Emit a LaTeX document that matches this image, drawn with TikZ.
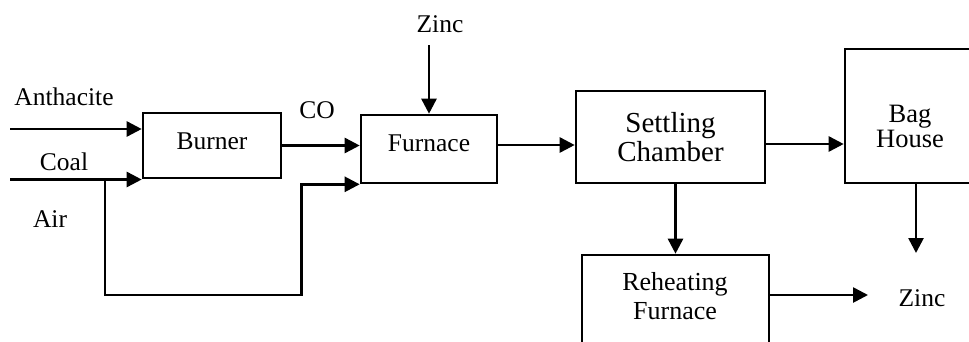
\documentclass[tikz,border=0pt]{standalone}
\usepackage{fontspec}
\setmainfont{Liberation Serif}
\usetikzlibrary{arrows.meta}
\begin{document}
\begin{tikzpicture}[x=1pt,y=-1pt,
  box/.style={draw, line width=2.6pt, inner sep=0pt, align=center,
    font=\fontsize{25.5}{27}\selectfont},
  txt/.style={inner sep=0pt, align=center, font=\fontsize{25.5}{27}\selectfont},
  arr/.style={line width=2.6pt, -{Triangle[length=15pt,width=15pt]}}]
\useasboundingbox (0,0) rectangle (969,341);
\clip (0,0) rectangle (969,341);
% boxes
\node[box, minimum width=138pt, minimum height=65pt, text depth=8pt] (burner) at (212,145.5) {Burner};
\node[box, minimum width=136pt, minimum height=68pt, text depth=11pt] (furnace) at (429,149) {Furnace};
\node[box, minimum width=189pt, minimum height=92pt, font=\fontsize{29}{28.5}\selectfont] (settling) at (670.5,137) {Settling\\Chamber};
\node[box, minimum width=140pt, minimum height=134pt] (baghouse) at (915,116) {};
\node[box, minimum width=187pt, minimum height=105pt] (reheat) at (675.5,307.5) {};
% texts
\node[txt, anchor=base] (anth) at (64,105) {Anthacite};
\node[txt, anchor=base] (coal) at (64,170) {Coal};
\node[txt, anchor=base] (air) at (50,227) {Air};
\node[txt, anchor=base] (co) at (317,118) {CO};
\node[txt, anchor=base] (zinc1) at (440,32) {Zinc};
\node[txt, font=\fontsize{26.5}{25}\selectfont] (bagtxt) at (910,126.5) {Bag\\House};
\node[txt, font=\fontsize{26}{29.5}\selectfont] (reheattxt) at (675,296) {Reheating\\Furnace};
\node[txt, anchor=base] (zinc2) at (922,306) {Zinc};
% free ends
\coordinate (anthin) at (10,129);
\coordinate (coalin) at (10,179.5);
\coordinate (airj) at (105,179.5);
\coordinate (bagout) at (916,253);
% connectors
\draw[arr] (anthin) -- (anthin -| burner.west);
\draw[arr] (coalin) -- (coalin -| burner.west);
\draw[arr] (airj) -- (105,295) -| ([xshift=-58pt]furnace.south west) -- (furnace.south west);
\draw[arr] (burner.east) -- (burner.east -| furnace.west);
\draw[arr] ([yshift=-13pt]zinc1.south -| furnace.north) -- (furnace.north);
\draw[arr] ([yshift=4pt]furnace.east) -- ([yshift=4pt]furnace.east -| settling.west);
\draw[arr] ([yshift=-7pt]settling.east) -- ([yshift=-7pt]settling.east -| baghouse.west);
\draw[arr] (settling.south -| reheat.north) -- (reheat.north);
\draw[arr] (bagout |- baghouse.south) -- (bagout);
\draw[arr] (reheat.east |- 0,295) -- (868,295);
\end{tikzpicture}
\end{document}
